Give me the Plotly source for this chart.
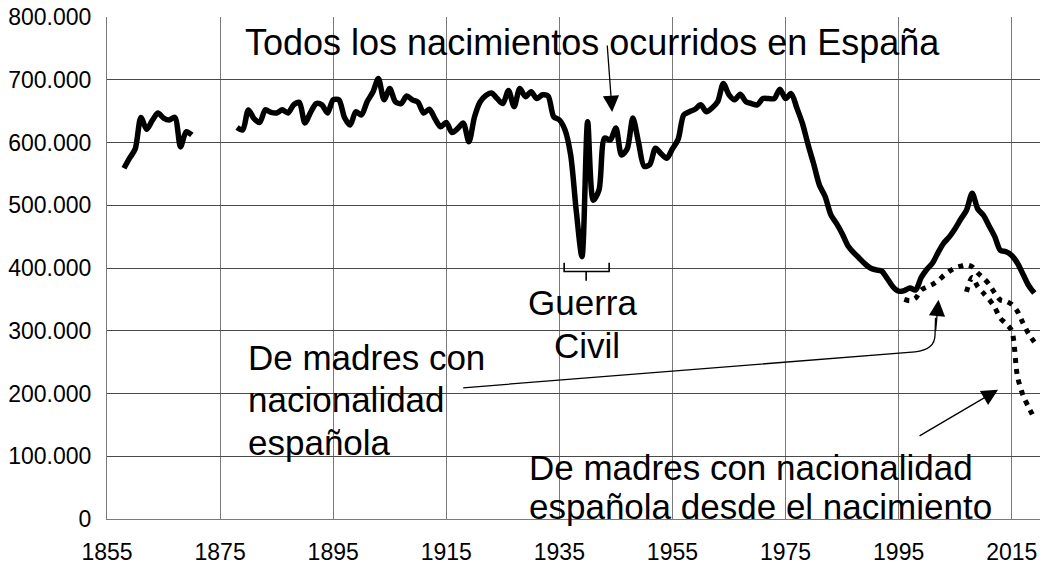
import plotly.graph_objects as go

# ---------------- data (births, thousands) ----------------
years_early = list(range(1858, 1871))
births_early = [559, 575, 590, 640, 621, 635, 647, 639, 636, 640, 593, 617, 612]

years_late = list(range(1878, 2020))
births_late = [
    624, 620, 652, 638, 632, 652, 648, 647, 652, 647,          # 1878-1887
    660, 664, 631, 648, 662, 660, 647, 668, 668, 640,          # 1888-1897
    628, 649, 644, 665, 680, 702, 668, 686, 665, 662,          # 1898-1907
    674, 668, 664, 647, 653, 638, 625, 632, 616, 622,          # 1908-1917
    631, 601, 641, 665, 675, 679, 670, 662, 683, 657,          # 1918-1927
    686, 673, 681, 670, 676, 674, 641, 636, 620, 580,          # 1928-1937
    490, 418, 633, 508, 524, 607, 604, 623, 580, 590,          # 1938-1947
    639, 600, 562, 565, 591, 582, 575, 590, 605, 644,          # 1948-1957
    649, 653, 660, 649, 655, 665, 694, 676, 668, 677,          # 1958-1967
    665, 662, 660, 670, 670, 670, 685, 670, 678, 655,          # 1968-1977
    630, 596, 565, 532, 514, 485, 471, 455, 436, 425,          # 1978-1987
    416, 407, 400, 397, 395, 383, 370, 363, 364, 368,          # 1988-1997
    365, 385, 398, 408, 425, 440, 450, 463, 478, 492,          # 1998-2007
    519, 494, 484, 467, 450, 428, 426, 420, 408, 390,          # 2008-2017
    372, 360,                                                  # 2018-2019
]

years_esp = list(range(1996, 2020))
births_esp = [350, 348, 352, 365, 370, 374, 380, 388, 395, 400, 403, 405,
              402, 392, 384, 374, 360, 349, 347, 342, 331, 312, 295, 282]

years_nac = list(range(2007, 2020))
births_nac = [362, 385, 370, 360, 350, 337, 320, 311, 300, 228, 197, 178, 160]

x_ticks = list(range(1855, 2016, 20))
y_ticks = list(range(0, 800001, 100000))

assert len(years_late) == len(births_late)
assert len(years_esp) == len(births_esp)
assert len(years_nac) == len(births_nac)

# all births series with a gap (1871-1877)
years_all = years_early + [1874] + years_late
births_all = [v * 1000 for v in births_early] + [None] + [v * 1000 for v in births_late]

# ---------------- pixel helpers for annotation placement ----------------
X0_PX, X1_PX, X0_YR, X1_YR = 106.7, 1040.0, 1855, 2020
Y0_PX, Y1_PX = 519.3, 17.0
FIG_W, FIG_H = 1050, 565


def xd(px):
    return X0_YR + (px - X0_PX) * (X1_YR - X0_YR) / (X1_PX - X0_PX)


def yd(py):
    return (Y0_PX - py) * 800000 / (Y0_PX - Y1_PX)


FONT = "Liberation Sans, Arial, Helvetica, sans-serif"

fig = go.Figure()
fig.add_trace(go.Scatter(
    x=years_all, y=births_all, mode="lines",
    line=dict(color="black", width=5.5, shape="spline", smoothing=0.8),
    connectgaps=False, hoverinfo="skip", showlegend=False))
fig.add_trace(go.Scatter(
    x=years_esp, y=[v * 1000 for v in births_esp], mode="lines",
    line=dict(color="black", width=5, dash="5px,6px", shape="spline", smoothing=0.8),
    hoverinfo="skip", showlegend=False))
fig.add_trace(go.Scatter(
    x=years_nac, y=[v * 1000 for v in births_nac], mode="lines",
    line=dict(color="black", width=5, dash="5px,6px", shape="spline", smoothing=0.8),
    hoverinfo="skip", showlegend=False))

ann = []


def text_line(txt, left_px, base_px, anchor="left", size=35):
    ann.append(dict(
        text=txt, x=xd(left_px), y=yd(base_px - 12), xref="x", yref="y",
        xanchor=anchor, yanchor="middle", showarrow=False, borderpad=0,
        font=dict(family=FONT, size=size, color="black")))


text_line("Todos los nacimientos ocurridos en España", 244, 55, size=36)
text_line("Guerra", 582, 315, "center")
text_line("Civil", 587, 358, "center")
text_line("De madres con", 247, 370)
text_line("nacionalidad", 247, 412)
text_line("española", 247, 455)
text_line("De madres con nacionalidad", 528, 480)
text_line("española desde el nacimiento", 528, 519)


def arrow(tail, tip):
    ann.append(dict(
        text="", x=xd(tip[0]), y=yd(tip[1]), ax=xd(tail[0]), ay=yd(tail[1]),
        xref="x", yref="y", axref="x", ayref="y", showarrow=True,
        arrowhead=2, arrowwidth=1.3, arrowsize=2.5, arrowcolor="black"))


arrow((607, 44), (612, 112))
arrow((935.5, 332), (938.5, 300))
arrow((918, 437), (998, 390))

shapes = [
    # bracket for Guerra Civil
    dict(type="path", xref="x", yref="y",
         path=(f"M{xd(564)},{yd(263)} L{xd(564)},{yd(271.7)} L{xd(609)},{yd(271.7)} "
               f"L{xd(609)},{yd(263)} M{xd(586)},{yd(271.7)} L{xd(586)},{yd(281)}"),
         line=dict(color="black", width=1.6)),
    # curved connector for "De madres con nacionalidad española"
    dict(type="path", xref="x", yref="y",
         path=(f"M{xd(463)},{yd(388)} L{xd(915)},{yd(352)} "
               f"Q{xd(935)},{yd(350)} {xd(935)},{yd(335)} L{xd(935.5)},{yd(318)}"),
         line=dict(color="black", width=1.3)),
]

fig.update_layout(
    width=FIG_W, height=FIG_H,
    margin=dict(l=X0_PX, r=FIG_W - X1_PX, t=Y1_PX, b=FIG_H - Y0_PX,
                pad=0, autoexpand=False),
    paper_bgcolor="white", plot_bgcolor="white",
    separators=",.",
    font=dict(family=FONT, size=23, color="black"),
    annotations=ann, shapes=shapes,
    xaxis=dict(range=[X0_YR, X1_YR], tickmode="array", tickvals=x_ticks,
               ticktext=[str(v) for v in x_ticks], automargin=False,
               showgrid=True, gridcolor="#7a7a7a", gridwidth=1,
               showline=True, linecolor="#7a7a7a", linewidth=1.2,
               ticks="", zeroline=False, ticklabelstandoff=12,
               tickfont=dict(family=FONT, size=23, color="black")),
    yaxis=dict(range=[0, 800000], tickmode="array", tickvals=y_ticks,
               tickformat=",d", showgrid=True, gridcolor="#4a4a4a", gridwidth=1,
               automargin=False,
               showline=True, linecolor="#7a7a7a", linewidth=1.2,
               ticks="", zeroline=False, ticklabelstandoff=10,
               tickfont=dict(family=FONT, size=23, color="black")),
)

fig.write_html(
    "out.html",
    config={"displayModeBar": False},
    post_script="document.body.style.margin='0';document.body.style.overflow='hidden';",
)
